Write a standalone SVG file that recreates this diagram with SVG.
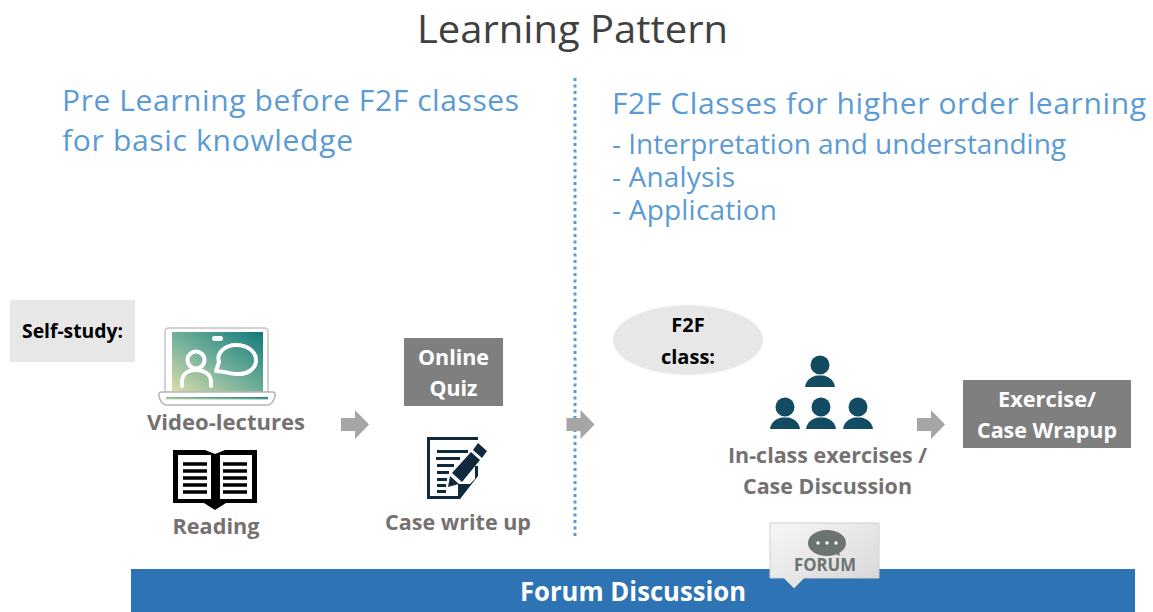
<svg xmlns="http://www.w3.org/2000/svg" width="1153" height="612" viewBox="0 0 1153 612">
<style>
text{font-family:"Open Sans","Noto Sans","Liberation Sans",sans-serif}
.h{fill:#5b9bd5;font-size:30px}
.s{fill:#5b9bd5;font-size:28px}
.g{fill:#767171;font-size:22px;font-weight:700;text-anchor:middle}
.b{fill:#000;font-size:20px;font-weight:700;text-anchor:middle}
.w{fill:#fff;font-size:22px;font-weight:700;text-anchor:middle}
.box{fill:#7f7f7f}
.arr{fill:#a6a6a6}
.lt{fill:#e7e7e7}
.p{fill:#134b62}
.d{fill:#0e2a3c}
</style>
<defs>
<linearGradient id="scr" x1="0" y1="1" x2="1" y2="0"><stop offset="0" stop-color="#dcdca8"/><stop offset=".45" stop-color="#79b39c"/><stop offset="1" stop-color="#117a7a"/></linearGradient>
<linearGradient id="bub" x1="0" y1="0" x2="1" y2="1"><stop offset="0" stop-color="#f7f7f7"/><stop offset="1" stop-color="#d6d6d6"/></linearGradient>
<path id="ar" d="M0 8H14V0L28 14.500 14 29V21H0Z"/>
<g id="person"><circle cx="0" cy="0" r="9.500"/><path d="M-15 22C-14 14-7 11-3 10.500H3C7 11 14 14 15 22Z"/></g>
</defs>
<text x="572.500" y="43" font-size="39" fill="#404040" text-anchor="middle" textLength="311" lengthAdjust="spacingAndGlyphs">Learning Pattern</text>
<g id="left-heading"><text class="h" x="62" y="111" textLength="457">Pre Learning before F2F classes</text><text class="h" x="62" y="151" textLength="291">for basic knowledge</text></g>
<g id="right-heading"><text class="h" x="612" y="114" textLength="534">F2F Classes for higher order learning</text><text class="s" x="612" y="154" textLength="454">- Interpretation and understanding</text><text class="s" x="612" y="187" textLength="123">- Analysis</text><text class="s" x="612" y="220" textLength="165">- Application</text></g>
<g id="connectors">
<line x1="575" y1="78" x2="575" y2="536" stroke="#5b9bd5" stroke-width="3" stroke-dasharray="3 3.500"/>
<use href="#ar" class="arr" x="341" y="410"/><use href="#ar" class="arr" x="566.500" y="410"/><use href="#ar" class="arr" x="917" y="410"/>
</g>
<g id="self-study"><rect class="lt" x="10" y="300" width="125" height="62"/><text class="b" x="72.500" y="338" textLength="101" lengthAdjust="spacingAndGlyphs">Self-study:</text></g>
<g id="video-lectures">
<path d="M165 392V332q0-4 4-4H264q4 0 4 4V392Z" fill="#fff" stroke="#c4c4c4" stroke-width="1.500"/>
<rect x="172" y="332" width="91" height="60" fill="url(#scr)"/>
<rect x="212" y="336" width="11" height="5" rx="2.500" fill="#fff"/>
<circle cx="196" cy="360" r="8.500" fill="none" stroke="#fff" stroke-width="4"/>
<path d="M182 386V382C182 374 188 370 196 370S211 374 211 382V386" fill="none" stroke="#fff" stroke-width="4" stroke-linecap="round"/>
<path d="M216 371 219 362C216 353 225 345 236 345 248 345 256 352 256 360 256 369 247 375 236 374 229 374 225 371 216 371Z" fill="none" stroke="#fff" stroke-width="4" stroke-linejoin="round"/>
<path d="M162 392H272q4 0 3 4-2 9-8 9H167q-6 0-8-9-1-4 3-4Z" fill="#fff" stroke="#b5b5b5" stroke-width="1.500"/>
<rect x="166" y="397" width="102" height="2.500" fill="url(#scr)"/>
<text class="g" x="226" y="430" textLength="158" lengthAdjust="spacingAndGlyphs">Video-lectures</text>
</g>
<g id="reading">
<path d="M173 450H205L215 454 225 450H257V503H226L215 510 204 503H173Z" fill="#000"/>
<path d="M178 455H211V499H178ZM220 455H252V499H220Z" fill="#fff"/>
<path d="M183 464H207M183 471H207M183 478H207M183 485H207M183 492H207M223 464H247M223 471H247M223 478H247M223 485H247M223 492H247" stroke="#000" stroke-width="3.500"/>
<text class="g" x="216" y="534" textLength="87" lengthAdjust="spacingAndGlyphs">Reading</text>
</g>
<g id="online-quiz"><rect class="box" x="404" y="338" width="99" height="68"/><text class="w" x="453.500" y="365" textLength="71" lengthAdjust="spacingAndGlyphs">Online</text><text class="w" x="453.500" y="396" textLength="48" lengthAdjust="spacingAndGlyphs">Quiz</text></g>
<g id="case-write-up">
<path class="d" d="M427 437H478V440H430V496H458V499H427Z"/>
<path class="d" d="M475 466H478V476L460 499H458V484H470L475 479Z"/>
<path class="d" d="M437 450H468V453H437ZM436 457H460V460H436ZM437 464H454V467H437ZM437 471H449V474H437ZM437 478H447V481H437ZM437 484H446V487H437ZM437 490H446V493H437Z"/>
<path class="d" d="M478 443 487 451 482 458 473 450ZM471 452 480 460 462 482 452 473ZM450 476 459 484 448 487Z"/>
<text class="g" x="458" y="530" textLength="146" lengthAdjust="spacingAndGlyphs">Case write up</text>
</g>
<g id="f2f-class"><ellipse class="lt" cx="688" cy="340" rx="75" ry="35"/><text class="b" x="688" y="332">F2F</text><text class="b" x="688" y="364">class:</text></g>
<g id="in-class">
<g class="p"><use href="#person" x="820" y="365"/><use href="#person" x="785" y="407"/><use href="#person" x="821" y="407"/><use href="#person" x="858" y="407"/></g>
<text class="g" x="827.500" y="463" textLength="199" lengthAdjust="spacingAndGlyphs">In-class exercises /</text><text class="g" x="827.500" y="494" textLength="169" lengthAdjust="spacingAndGlyphs">Case Discussion</text>
</g>
<g id="exercise-wrapup"><rect class="box" x="963" y="380" width="168" height="68"/><text class="w" x="1047" y="407" textLength="98" lengthAdjust="spacingAndGlyphs">Exercise/</text><text class="w" x="1047" y="438" textLength="140" lengthAdjust="spacingAndGlyphs">Case Wrapup</text></g>
<g id="forum-discussion"><rect x="131" y="569" width="1004" height="43" fill="#2e74b5"/><text x="633" y="601" font-size="26" font-weight="700" fill="#fff" text-anchor="middle" textLength="226" lengthAdjust="spacingAndGlyphs">Forum Discussion</text></g>
<g id="forum-badge">
<path d="M770 523H879V578H804L794 588 784 578H770Z" fill="url(#bub)" stroke="#cfcfcf"/>
<ellipse cx="827" cy="543" rx="19" ry="13" fill="#6b7373"/><path d="M834 553 840 556 838 549Z" fill="#6b7373"/>
<circle cx="818" cy="543" r="1.700" fill="#fff"/><circle cx="827" cy="543" r="1.700" fill="#fff"/><circle cx="836" cy="543" r="1.700" fill="#fff"/>
<text x="825" y="571" font-size="17" font-weight="700" fill="#6b7373" text-anchor="middle" textLength="62" lengthAdjust="spacingAndGlyphs">FORUM</text>
</g>
</svg>
